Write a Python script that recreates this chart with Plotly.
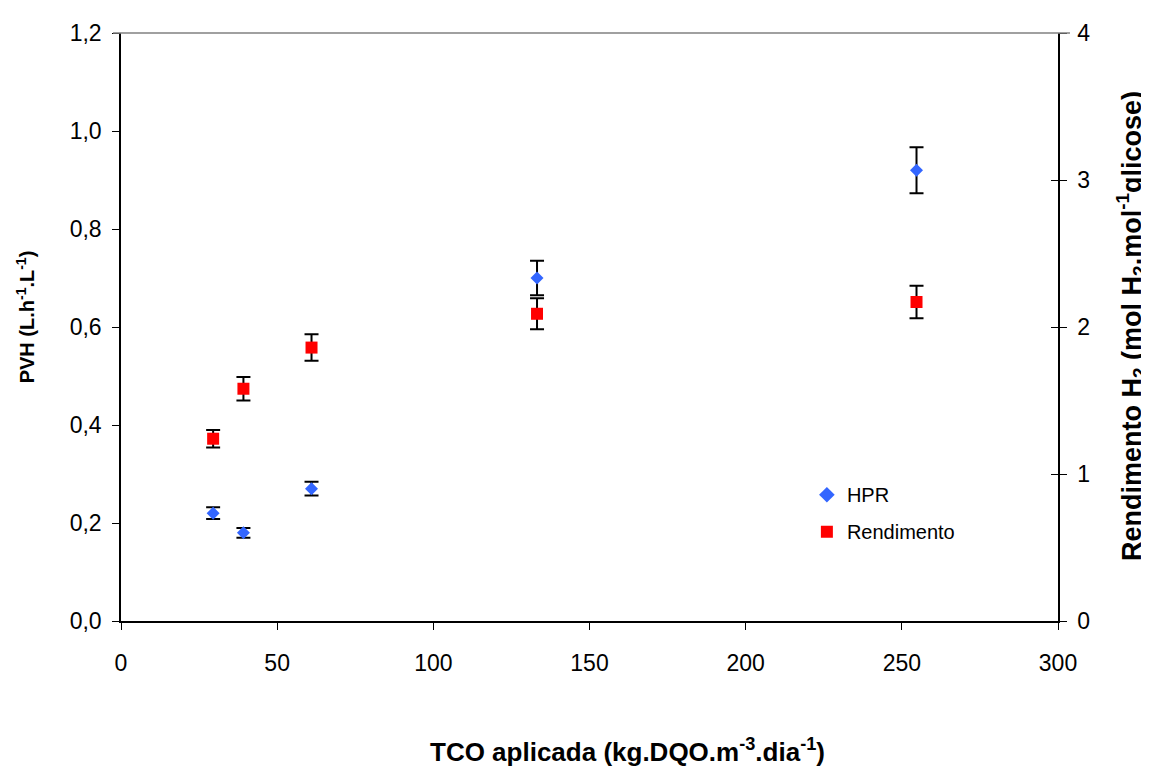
import plotly.graph_objects as go

tco = [29.5, 39.2, 61.0, 133.2, 254.7]
hpr = [0.22, 0.18, 0.27, 0.70, 0.92]
hpr_err = [0.012, 0.010, 0.014, 0.035, 0.047]
rend = [1.24, 1.58, 1.86, 2.09, 2.17]
rend_err = [0.06, 0.08, 0.09, 0.105, 0.11]

x_ticks = [0, 50, 100, 150, 200, 250, 300]
left_ticks = [0.0, 0.2, 0.4, 0.6, 0.8, 1.0, 1.2]
right_ticks = [0, 1, 2, 3, 4]

FONT = "Liberation Sans, Arial, sans-serif"

fig = go.Figure()
fig.add_trace(go.Scatter(
    x=tco, y=hpr, mode="markers", name="HPR", legendgroup="a",
    marker=dict(symbol="diamond", size=10, color="#3366FF"),
    error_y=dict(type="data", array=hpr_err, color="black", thickness=2, width=7),
    yaxis="y",
))
fig.add_trace(go.Scatter(
    x=tco, y=rend, mode="markers", name="Rendimento", legendgroup="b",
    marker=dict(symbol="square", size=12, color="#FF0000"),
    error_y=dict(type="data", array=rend_err, color="black", thickness=2, width=7),
    yaxis="y2",
))

fig.update_layout(
    width=1149, height=767,
    margin=dict(l=113, r=99, t=20, b=154),
    paper_bgcolor="white", plot_bgcolor="white",
    separators=",.",
    font=dict(family=FONT, color="black", size=22),
    xaxis=dict(range=[0, 300], tickvals=x_ticks, ticks="outside", ticklen=7,
               tickwidth=1, tickcolor="black", showline=True, linecolor="black",
               linewidth=1.5, showgrid=False, zeroline=False,
               tickfont=dict(size=23), ticklabelstandoff=14),
    yaxis=dict(range=[0, 1.2], tickvals=left_ticks, tickformat=".1f",
               ticks="outside", ticklen=7, tickwidth=1, tickcolor="black",
               showline=True, linecolor="black", linewidth=1.5,
               showgrid=False, zeroline=False, tickfont=dict(size=23),
               ticklabelstandoff=6),
    yaxis2=dict(range=[0, 4], tickvals=right_ticks, overlaying="y", side="right",
                ticks="outside", ticklen=7, tickwidth=1, tickcolor="black",
                showline=True, linecolor="black", linewidth=1.5,
                showgrid=False, zeroline=False, tickfont=dict(size=23),
                ticklabelstandoff=6),
    yaxis3=dict(range=[0, 4], tickvals=right_ticks, overlaying="y", side="right",
                ticks="inside", ticklen=7, tickwidth=1, tickcolor="black",
                showline=False, showticklabels=False, showgrid=False,
                zeroline=False),
    legend=dict(x=0.732, y=0.248, xanchor="left", yanchor="top",
                bgcolor="rgba(0,0,0,0)", font=dict(size=20),
                tracegroupgap=8, itemsizing="constant"),
    shapes=[dict(type="line", xref="paper", yref="paper", x0=-0.0085, x1=1.0128,
                 y0=1, y1=1, line=dict(color="#808080", width=1.5))],
    annotations=[
        dict(text="<b>TCO aplicada (kg.DQO.m<sup>-3</sup>.dia<sup>-1</sup>)</b>",
             xref="paper", yref="paper", x=0.541, y=-0.221, showarrow=False,
             xanchor="center", yanchor="middle", font=dict(size=26)),
        dict(text="<b>PVH (L.h<sup>-1</sup>.L<sup>-1</sup>)</b>",
             xref="paper", yref="paper", x=-0.1025, y=0.518, showarrow=False,
             textangle=-90, xanchor="center", yanchor="middle", font=dict(size=20)),
        dict(text="<b>Rendimento H<sub>2</sub> (mol H<sub>2</sub>.mol<sup>-1</sup>glicose)</b>",
             xref="paper", yref="paper", x=1.078, y=0.502, showarrow=False,
             textangle=-90, xanchor="center", yanchor="middle", font=dict(size=27)),
    ],
)
fig.add_trace(go.Scatter(x=[None], y=[None], yaxis="y3", showlegend=False,
                         hoverinfo="skip"))

fig.write_html("out.html")
